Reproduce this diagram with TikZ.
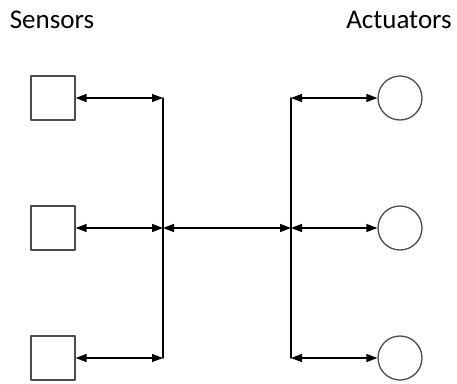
\documentclass[tikz,border=0pt]{standalone}
\usepackage{fontspec}
\setmainfont{Carlito}
\usetikzlibrary{arrows.meta}
\definecolor{wwwwww}{rgb}{0.3,0.3,0.3}

\begin{document}
\begin{tikzpicture}[line cap=round,line join=round,>={Triangle[length=11pt,width=8pt]},x=1pt,y=-1pt,
		sensor/.style={draw=wwwwww,line width=1.3pt,minimum size=44pt,inner sep=0pt},
		actuator/.style={draw=wwwwww,circle,line width=1.3pt,minimum size=44pt,inner sep=0pt},
		link/.style={<->,line width=1.4pt},
		title/.style={font=\fontsize{27}{32}\selectfont}]
		\useasboundingbox (0,0) rectangle (457,383);
		\node[title] (sens) at (52,20) {Sensors};
		\node[title] (act) at (399,20) {Actuators};
		\foreach \i/\y in {1/98,2/228,3/358} {
			\node[sensor] (s\i) at (53,\y) {};
			\node[actuator] (a\i) at (400,\y) {};
			\coordinate (l\i) at (163,\y);
			\coordinate (r\i) at (291,\y);
			\draw [link] (s\i.east) -- (l\i);
			\draw [link] (r\i) -- (a\i.west);
		}
		\draw [line width=1.4pt] (l1) -- (l3);
		\draw [line width=1.4pt] (r1) -- (r3);
		\draw [link] (l2) -- (r2);
	\end{tikzpicture}
\end{document}
